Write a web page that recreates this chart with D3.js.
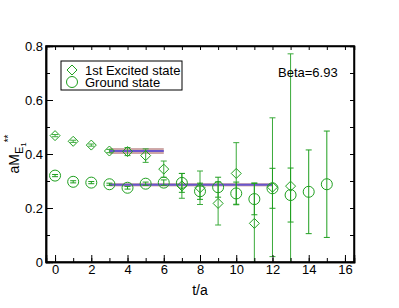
<!DOCTYPE html>
<html>
<head>
<meta charset="utf-8">
<script src="https://cdn.jsdelivr.net/npm/d3@7"></script>
<style>
  body { margin: 0; background: #fff; }
  text { font-family: "Liberation Sans", Arial, sans-serif; fill: #000; }
</style>
</head>
<body>
<div id="chart"></div>
<script>
// excited state (diamonds)
var excT   = [0, 1, 2, 3, 4, 5, 6, 7, 8, 9, 10, 11, 12, 13];
var excVal = [0.468, 0.447, 0.433, 0.411, 0.409, 0.394, 0.344, 0.282, 0.275, 0.217, 0.328, 0.143, 0.277, 0.281];
var excErr = [0.004, 0.004, 0.004, 0.006, 0.015, 0.025, 0.03, 0.046, 0.062, 0.08, 0.114, 0.15, 0.257, 0.49];

// ground state (circles)
var gndT   = [0, 1, 2, 3, 4, 5, 6, 7, 8, 9, 10, 11, 12, 13, 14, 15];
var gndVal = [0.320, 0.297, 0.294, 0.288, 0.275, 0.290, 0.294, 0.293, 0.262, 0.277, 0.254, 0.233, 0.273, 0.248, 0.260, 0.288];
var gndErr = [0.004, 0.004, 0.004, 0.004, 0.005, 0.006, 0.01, 0.035, 0.03, 0.037, 0.042, 0.058, 0.074, 0.1, 0.155, 0.197];

// plateau fits: [tStart, tEnd, value, error]
var fitExc = [3, 6, 0.411, 0.011];
var fitGnd = [3, 12, 0.286, 0.006];

var xTicks = [0, 2, 4, 6, 8, 10, 12, 14, 16];
var yTicks = [0, 0.2, 0.4, 0.6, 0.8];

var W = 399, H = 308;
var margin = {top: 46, right: 45, bottom: 46, left: 46};
var width = W - margin.left - margin.right,
    height = H - margin.top - margin.bottom;

var green = "#1f9f1f";

var svg = d3.select("#chart").append("svg")
  .attr("width", W)
  .attr("height", H);

var g = svg.append("g")
  .attr("transform", "translate(" + margin.left + "," + margin.top + ")");

var x = d3.scaleLinear().domain([-0.5, 16.5]).range([0, width]);
var y = d3.scaleLinear().domain([0, 0.8]).range([height, 0]);

// clip so huge error bars stay inside the frame
g.append("clipPath").attr("id", "clip")
  .append("rect").attr("width", width).attr("height", height);

var plot = g.append("g").attr("clip-path", "url(#clip)");

// fit bands
function band(f) {
  plot.append("rect")
    .attr("x", x(f[0]))
    .attr("y", y(f[2] + f[3]))
    .attr("width", x(f[1]) - x(f[0]))
    .attr("height", y(f[2] - f[3]) - y(f[2] + f[3]))
    .attr("fill", "#cda6a6");
  plot.append("line")
    .attr("x1", x(f[0])).attr("x2", x(f[1]))
    .attr("y1", y(f[2])).attr("y2", y(f[2]))
    .attr("stroke", "#6a55cc")
    .attr("stroke-width", 2);
}
band(fitExc);
band(fitGnd);

// error bars
function errBars(ts, vals, errs, col) {
  var eg = plot.append("g").attr("stroke", col).attr("stroke-width", 1).attr("fill", "none");
  ts.forEach(function(t, i) {
    var cx = x(t), lo = y(vals[i] - errs[i]), hi = y(vals[i] + errs[i]);
    eg.append("line").attr("x1", cx).attr("x2", cx).attr("y1", lo).attr("y2", hi);
    eg.append("line").attr("x1", cx - 3).attr("x2", cx + 3).attr("y1", lo).attr("y2", lo);
    eg.append("line").attr("x1", cx - 3).attr("x2", cx + 3).attr("y1", hi).attr("y2", hi);
  });
}
errBars(excT, excVal, excErr, "#3aaa3a");
errBars(gndT, gndVal, gndErr, green);

var diamond = "M0,-5L5,0L0,5L-5,0Z";

plot.selectAll(".dia")
  .data(excT)
  .enter().append("path")
  .attr("class", "dia")
  .attr("d", diamond)
  .attr("transform", function(d, i) { return "translate(" + x(d) + "," + y(excVal[i]) + ")"; })
  .attr("fill", "none")
  .attr("stroke", green)
  .attr("stroke-width", 1);

plot.selectAll(".circ")
  .data(gndT)
  .enter().append("circle")
  .attr("class", "circ")
  .attr("cx", function(d) { return x(d); })
  .attr("cy", function(d, i) { return y(gndVal[i]); })
  .attr("r", 5.5)
  .attr("fill", "none")
  .attr("stroke", green)
  .attr("stroke-width", 1);

// axes, ticks pointing inward on all sides
var xMinor = d3.range(0, 17, 1);
var yMinor = d3.range(0, 0.81, 0.1);

g.append("g")
  .attr("transform", "translate(0," + height + ")")
  .call(d3.axisBottom(x).tickValues(xMinor).tickSize(-4).tickFormat(""));
g.append("g")
  .attr("transform", "translate(0," + height + ")")
  .call(d3.axisBottom(x).tickValues(xTicks).tickSize(-7).tickPadding(3).tickFormat(d3.format("d")));
g.append("g")
  .call(d3.axisTop(x).tickValues(xMinor).tickSize(-4).tickFormat(""));

g.append("g")
  .call(d3.axisLeft(y).tickValues(yMinor).tickSize(-4).tickFormat(""));
g.append("g")
  .call(d3.axisLeft(y).tickValues(yTicks).tickSize(-7).tickPadding(3).tickFormat(function(d) { return d === 0 ? "0" : d3.format(".1f")(d); }));
g.append("g")
  .attr("transform", "translate(" + width + ",0)")
  .call(d3.axisRight(y).tickValues(yMinor).tickSize(-4).tickFormat(""));

g.selectAll(".domain").attr("stroke", "#000").attr("stroke-width", 1.5);
g.selectAll(".tick line").attr("stroke", "#000");
g.selectAll(".tick text")
  .style("font-family", "Liberation Sans, Arial, sans-serif")
  .style("font-size", "13px")
  .attr("fill", "#000");

// frame
g.append("rect")
  .attr("width", width).attr("height", height)
  .attr("fill", "none").attr("stroke", "#000").attr("stroke-width", 1.5);

// axis labels
svg.append("text")
  .attr("x", margin.left + width / 2)
  .attr("y", 295)
  .attr("text-anchor", "middle")
  .style("font-size", "14px")
  .text("t/a");

var yl = svg.append("text")
  .attr("transform", "translate(19," + (margin.top + height / 2) + ") rotate(-90)")
  .attr("text-anchor", "middle")
  .style("font-size", "14px");
yl.append("tspan").text("aM");
yl.append("tspan").attr("dy", 4).style("font-size", "11px").text("E");
yl.append("tspan").attr("dy", 3).style("font-size", "8px").text("1");
yl.append("tspan").attr("dy", -14).style("font-size", "10px").text("**");

// legend
var lg = g.append("g").attr("transform", "translate(15,15)");
lg.append("rect")
  .attr("width", 121).attr("height", 29)
  .attr("fill", "#fff").attr("stroke", "#000").attr("stroke-width", 1);
lg.append("path").attr("d", diamond)
  .attr("transform", "translate(11,9)")
  .attr("fill", "none").attr("stroke", green);
lg.append("circle").attr("cx", 11).attr("cy", 21).attr("r", 5.5)
  .attr("fill", "none").attr("stroke", green);
lg.append("text").attr("x", 24).attr("y", 13.5).style("font-size", "13px").text("1st Excited state");
lg.append("text").attr("x", 24).attr("y", 25.5).style("font-size", "13px").text("Ground state");

svg.append("text")
  .attr("x", 278)
  .attr("y", 77)
  .style("font-size", "13px")
  .text("Beta=6.93");
</script>
</body>
</html>
